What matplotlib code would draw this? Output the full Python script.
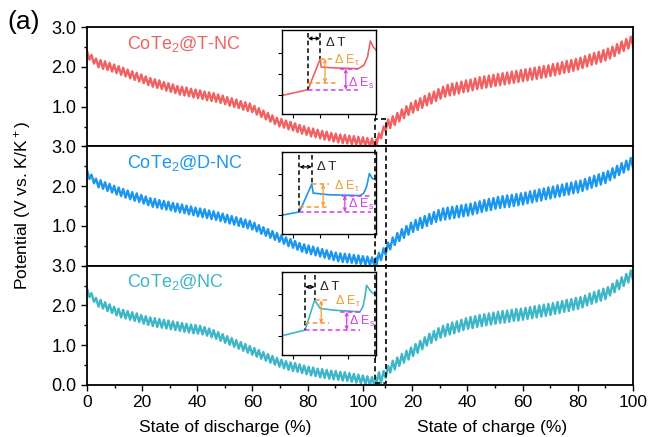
import numpy as np
import matplotlib
matplotlib.use("Agg")
import matplotlib.pyplot as plt
from matplotlib.patches import Rectangle
from matplotlib.ticker import MultipleLocator, FixedLocator

plt.rcParams['font.family'] = ['Liberation Sans', 'DejaVu Sans']
plt.rcParams['mathtext.default'] = 'regular'

# --- data ---
names = ['CoTe$_2$@T-NC', 'CoTe$_2$@D-NC', 'CoTe$_2$@NC']
colors = ['#F06262', '#1C97EE', '#3DB6C8']

# discharge: state of discharge 0 -> 105 %, relaxed potential before each pulse (V)
dis_range = (0, 105)
dis_T = [2.40, 2.30, 2.21, 2.17, 2.14, 2.10, 2.06, 2.02, 1.98, 1.93, 1.89, 1.85, 1.81,
         1.76, 1.72, 1.69, 1.66, 1.62, 1.59, 1.56, 1.52, 1.50, 1.48, 1.45, 1.43, 1.41,
         1.38, 1.36, 1.34, 1.31, 1.28, 1.24, 1.21, 1.18, 1.14, 1.11, 1.08, 1.02, 0.96,
         0.90, 0.84, 0.78, 0.72, 0.69, 0.65, 0.62, 0.58, 0.54, 0.51, 0.47, 0.45, 0.42,
         0.39, 0.37, 0.34, 0.32, 0.30, 0.29, 0.27, 0.26, 0.24, 0.23, 0.21, 0.20, 0.18]
dis_D = [2.40, 2.29, 2.19, 2.15, 2.10, 2.06, 2.01, 1.97, 1.93, 1.89, 1.85, 1.82, 1.78,
         1.74, 1.70, 1.68, 1.65, 1.63, 1.61, 1.58, 1.56, 1.54, 1.51, 1.49, 1.46, 1.44,
         1.42, 1.39, 1.37, 1.34, 1.31, 1.28, 1.25, 1.22, 1.19, 1.16, 1.13, 1.08, 1.02,
         0.97, 0.92, 0.87, 0.82, 0.77, 0.71, 0.67, 0.62, 0.57, 0.54, 0.51, 0.48, 0.45,
         0.42, 0.39, 0.36, 0.33, 0.31, 0.30, 0.29, 0.27, 0.26, 0.24, 0.23, 0.21, 0.20]
dis_N = [2.43, 2.31, 2.19, 2.14, 2.08, 2.03, 1.97, 1.92, 1.89, 1.86, 1.83, 1.80, 1.76,
         1.73, 1.70, 1.68, 1.66, 1.64, 1.62, 1.60, 1.58, 1.56, 1.54, 1.52, 1.51, 1.49,
         1.46, 1.42, 1.38, 1.33, 1.28, 1.23, 1.18, 1.13, 1.08, 1.03, 0.98, 0.93, 0.88,
         0.83, 0.78, 0.73, 0.68, 0.64, 0.60, 0.57, 0.55, 0.52, 0.49, 0.46, 0.44, 0.41,
         0.40, 0.38, 0.36, 0.35, 0.33, 0.32, 0.30, 0.28, 0.26, 0.24, 0.22, 0.20, 0.18]

# charge: state of charge 7 -> 100 %, relaxed potential before each pulse (V)
chg_offset = 98          # where 0 % charge sits on the shared x axis
chg_range = (7, 100)
chg_T = [0.03, 0.20, 0.38, 0.46, 0.54, 0.63, 0.71, 0.79, 0.85, 0.91, 0.97, 1.03, 1.08,
         1.14, 1.20, 1.25, 1.28, 1.30, 1.33, 1.36, 1.38, 1.41, 1.44, 1.46, 1.48, 1.50,
         1.52, 1.54, 1.56, 1.58, 1.60, 1.62, 1.64, 1.66, 1.68, 1.70, 1.72, 1.74, 1.77,
         1.79, 1.82, 1.85, 1.87, 1.90, 1.93, 1.97, 2.01, 2.05, 2.08, 2.12, 2.16, 2.21,
         2.27, 2.34, 2.40, 2.46, 2.53]
chg_D = [0.02, 0.14, 0.28, 0.41, 0.52, 0.62, 0.70, 0.78, 0.85, 0.90, 0.95, 1.00, 1.05,
         1.10, 1.14, 1.16, 1.18, 1.20, 1.22, 1.24, 1.26, 1.29, 1.32, 1.35, 1.38, 1.40,
         1.43, 1.45, 1.47, 1.48, 1.50, 1.52, 1.54, 1.57, 1.59, 1.62, 1.64, 1.67, 1.69,
         1.72, 1.74, 1.77, 1.79, 1.82, 1.84, 1.88, 1.92, 1.96, 2.00, 2.04, 2.08, 2.15,
         2.21, 2.28, 2.34, 2.41, 2.48]
chg_N = [0.02, 0.05, 0.18, 0.31, 0.39, 0.48, 0.56, 0.64, 0.73, 0.81, 0.90, 0.99, 1.06,
         1.13, 1.19, 1.23, 1.27, 1.30, 1.34, 1.38, 1.41, 1.43, 1.46, 1.48, 1.50, 1.52,
         1.54, 1.56, 1.57, 1.59, 1.61, 1.62, 1.64, 1.66, 1.68, 1.70, 1.72, 1.74, 1.76,
         1.79, 1.81, 1.84, 1.86, 1.89, 1.91, 1.95, 2.00, 2.04, 2.08, 2.12, 2.16, 2.25,
         2.33, 2.41, 2.49, 2.58, 2.66]

eta_dis = 0.22   # potential drop during a discharge pulse
eta_chg = 0.30   # potential rise during a charge pulse

# inset sketches (unit coordinates)
inset_x = [[0, 0.28, 0.41, 0.42, 0.55, 0.81, 0.87, 0.91, 0.94, 0.97, 1.0],
           [0, 0.19, 0.32, 0.335, 0.5, 0.83, 0.87, 0.90, 0.93, 0.96, 1.0],
           [0, 0.25, 0.35, 0.41, 0.55, 0.83, 0.86, 0.88, 0.90, 0.95, 1.0]]
inset_y = [[0.22, 0.29, 0.66, 0.56, 0.55, 0.54, 0.58, 0.68, 0.87, 0.80, 0.76],
           [0.23, 0.27, 0.61, 0.50, 0.48, 0.47, 0.50, 0.58, 0.74, 0.68, 0.66],
           [0.23, 0.30, 0.66, 0.56, 0.54, 0.52, 0.58, 0.68, 0.84, 0.76, 0.72]]

dis_all = [dis_T, dis_D, dis_N]
chg_all = [chg_T, chg_D, chg_N]


def gitt(x0, x1, relaxed, eta):
    n = len(relaxed) - 1
    edges = np.linspace(x0, x1, n + 1)
    xs, ys = [edges[0]], [relaxed[0]]
    for i in range(n):
        xs += [edges[i] + 0.55 * (edges[i + 1] - edges[i]), edges[i + 1]]
        ys += [relaxed[i] + eta, relaxed[i + 1]]
    return np.array(xs), np.array(ys)


fig, axes = plt.subplots(3, 1, figsize=(6.49, 4.37), dpi=100, sharex=True)
fig.subplots_adjust(left=0.134, right=0.976, bottom=0.119, top=0.938, hspace=0)

# inset annotation layout
ann = [dict(t1=0.28, t2=0.41, pk=0.66, base=0.29, olow=0.37, olx=0.60, oux=0.53, oax=0.46,
            et=(0.55, 0.64), mu=0.54, mx0=0.62, mx1=0.81, max_=0.68, es=(0.70, 0.37), ta=0.90, tt=0.85),
       dict(t1=0.19, t2=0.32, pk=0.61, base=0.27, olow=0.335, olx=0.49, oux=0.50, oax=0.44,
            et=(0.56, 0.58), mu=0.47, mx0=0.64, mx1=0.95, max_=0.67, es=(0.70, 0.36), ta=0.82, tt=0.82),
       dict(t1=0.25, t2=0.35, pk=0.66, base=0.30, olow=0.38, olx=0.50, oux=0.48, oax=0.42,
            et=(0.57, 0.64), mu=0.52, mx0=0.62, mx1=0.83, max_=0.69, es=(0.71, 0.40), ta=0.82, tt=0.82)]
inset_rect = [[0.356, 0.271, 0.173, 0.704],
              [0.356, 0.265, 0.173, 0.687],
              [0.356, 0.252, 0.173, 0.695]]
orange = '#F29A2E'
magenta = '#D63CEA'

for k, ax in enumerate(axes):
    xd, yd = gitt(dis_range[0], dis_range[1], dis_all[k], -eta_dis)
    xc, yc = gitt(chg_offset + chg_range[0], chg_offset + chg_range[1], chg_all[k], eta_chg)
    ax.plot(np.concatenate([xd, xc]), np.concatenate([yd, yc]), color=colors[k], lw=1.7)
    ax.set_ylim(0, 3)
    ax.set_xlim(0, 198.2)
    ax.yaxis.set_major_locator(FixedLocator([0, 1, 2, 3] if k == 2 else [1, 2, 3]))
    ax.yaxis.set_minor_locator(MultipleLocator(0.5))
    ax.yaxis.set_major_formatter(plt.FormatStrFormatter('%.1f'))
    ax.tick_params(axis='y', which='major', direction='out', length=4, width=1, labelsize=13)
    ax.tick_params(axis='y', which='minor', direction='out', length=2.5, width=1)
    ax.tick_params(axis='x', which='both', bottom=(k == 2), length=4, width=1, labelsize=12.5)
    ax.tick_params(axis='x', which='minor', length=2.5)
    for s in ax.spines.values():
        s.set_linewidth(1.3)
    ax.text(0.074, 0.86, names[k], transform=ax.transAxes, color=colors[k],
            fontsize=13, va='center', ha='left')

    # inset
    ins = ax.inset_axes(inset_rect[k])
    ins.plot(inset_x[k], inset_y[k], color=colors[k], lw=1.2)
    ins.set_xlim(0, 1)
    ins.set_ylim(0, 1)
    ins.set_xticks([0.12, 0.41, 0.70, 0.99])
    ins.set_yticks([0.23, 0.48, 0.73])
    ins.tick_params(length=3, width=0.8, labelbottom=False, labelleft=False)
    for s in ins.spines.values():
        s.set_linewidth(1)
    a = ann[k]
    dash = (0, (3, 2))
    ins.plot([a['t1'], a['t1']], [0.97, a['base']], color='k', lw=1.1, ls=dash)
    ins.plot([a['t2'], a['t2']], [0.97, a['pk']], color='k', lw=1.1, ls=dash)
    ins.annotate('', xy=(a['t1'], a['ta']), xytext=(a['t2'], a['ta']),
                 arrowprops=dict(arrowstyle='<->', lw=0.9, color='k', mutation_scale=5,
                                 shrinkA=0, shrinkB=0))
    ins.text(a['t2'] + 0.06, a['tt'], '\u0394 T', fontsize=9.5, va='center', color='#222222')
    ins.plot([a['t2'], a['oux']], [a['pk'], a['pk']], color=orange, lw=1.1, ls=dash)
    ins.plot([a['t1'], a['olx']], [a['olow'], a['olow']], color=orange, lw=1.1, ls=dash)
    ins.annotate('', xy=(a['oax'], a['pk']), xytext=(a['oax'], a['olow']),
                 arrowprops=dict(arrowstyle='<->', lw=0.9, color=orange, mutation_scale=5,
                                 shrinkA=0, shrinkB=0))
    ins.text(a['et'][0], a['et'][1], '\u0394 E$_\u03c4$', fontsize=9, color=orange, va='center')
    ins.plot([a['t1'], a['mx1']], [a['base'], a['base']], color=magenta, lw=1.1, ls=dash)
    ins.plot([a['mx0'], a['mx1']], [a['mu'], a['mu']], color=magenta, lw=1.1, ls=dash)
    ins.annotate('', xy=(a['max_'], a['mu']), xytext=(a['max_'], a['base']),
                 arrowprops=dict(arrowstyle='<->', lw=0.9, color=magenta, mutation_scale=5,
                                 shrinkA=0, shrinkB=0))
    ins.text(a['es'][0], a['es'][1], '\u0394 E$_s$', fontsize=9, color=magenta, va='center')

ax3 = axes[2]
dis_ticks = [0, 20, 40, 60, 80, 100]
chg_ticks = [20, 40, 60, 80, 100]
ax3.set_xticks(dis_ticks + [chg_offset + c for c in chg_ticks])
ax3.set_xticklabels([str(t) for t in dis_ticks + chg_ticks])
ax3.xaxis.set_minor_locator(FixedLocator([10, 30, 50, 70, 90] + [chg_offset + c for c in [10, 30, 50, 70, 90]]))
ax3.annotate('State of discharge (%)', xy=(50, 0), xycoords=('data', 'axes fraction'),
             xytext=(0, -25), textcoords='offset points', ha='center', va='top', fontsize=12.5)
ax3.annotate('State of charge (%)', xy=(chg_offset + 49, 0), xycoords=('data', 'axes fraction'),
             xytext=(0, -25), textcoords='offset points', ha='center', va='top', fontsize=12.5)

fig.text(0.034, 0.529, 'Potential (V vs. K/K$^+$)', rotation=90, ha='center', va='center', fontsize=12.5)
fig.text(0.012, 0.978, '(a)', fontsize=19, ha='left', va='top')

# dashed box marking the discharge/charge turn
inv = fig.transFigure.inverted()
p1 = inv.transform(axes[0].transData.transform((104.3, 0.68)))
p2 = inv.transform(axes[2].transData.transform((108.3, 0.05)))
fig.add_artist(Rectangle((p1[0], p2[1]), p2[0] - p1[0], p1[1] - p2[1], transform=fig.transFigure,
                         fill=False, ls=(0, (3, 2)), lw=1.2, color='k', zorder=10))

fig.savefig('out.png', dpi=100)
